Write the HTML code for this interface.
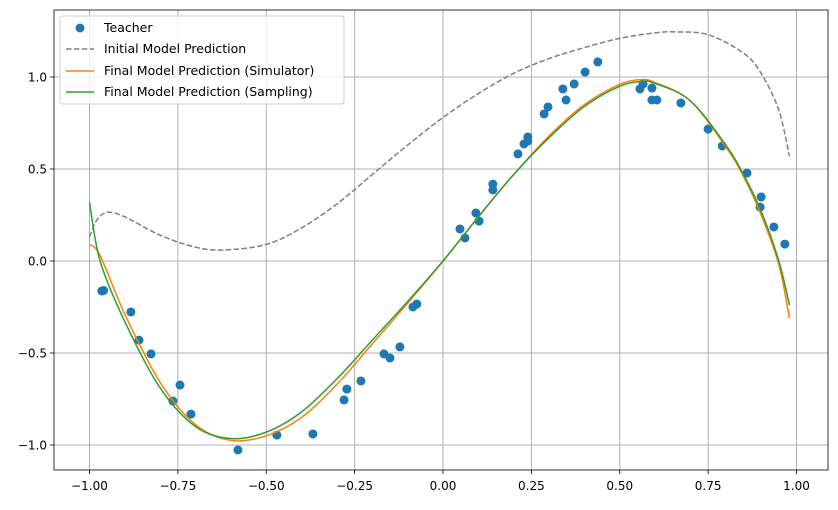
<!DOCTYPE html>
<html><head><meta charset="utf-8"><style>
body{margin:0;background:#fff;font-family:"Liberation Sans","DejaVu Sans",sans-serif}
svg text{font-family:"DejaVu Sans","Liberation Sans",sans-serif;font-size:12px;fill:#000}
</style></head><body>
<svg id="chart" width="838" height="505" xmlns="http://www.w3.org/2000/svg">
<g id="grid"></g>
<g id="series"></g>
<rect x="54" y="10" width="774" height="460" fill="none" stroke="#000" stroke-width="0.8"/>
<g id="ticks"></g>
<g>
<rect x="60" y="16" width="284" height="88" rx="3" fill="#fff" fill-opacity="0.8" stroke="#ccc"/>
<g><circle cx="80" cy="28" r="4.5" fill="#1f77b4"/><text x="104" y="32" style="font-size:12.5px">Teacher</text></g>
<g><line x1="66" y1="49" x2="94" y2="49" stroke="#808080" stroke-width="1.5" stroke-dasharray="5.5,2.4"/><text x="104" y="53" style="font-size:12.5px">Initial Model Prediction</text></g>
<g><line x1="66" y1="71" x2="94" y2="71" stroke="#ff7f0e" stroke-width="1.5"/><text x="104" y="75" style="font-size:12.5px">Final Model Prediction (Simulator)</text></g>
<g><line x1="66" y1="92" x2="94" y2="92" stroke="#2ca02c" stroke-width="1.5"/><text x="104" y="96" style="font-size:12.5px">Final Model Prediction (Sampling)</text></g>
</g>
</svg>
<script>
const teacherX=[-0.965,-0.96,-0.883,-0.86,-0.826,-0.744,-0.764,-0.713,-0.58,-0.47,-0.368,-0.28,-0.272,-0.232,-0.167,-0.15,-0.122,-0.085,-0.074,0.048,0.062,0.093,0.102,0.141,0.141,0.212,0.229,0.24,0.24,0.286,0.297,0.339,0.348,0.371,0.402,0.438,0.557,0.566,0.591,0.591,0.605,0.673,0.75,0.79,0.86,0.9,0.897,0.936,0.967];
const teacherY=[-0.163,-0.16,-0.277,-0.43,-0.505,-0.674,-0.761,-0.832,-1.027,-0.946,-0.94,-0.755,-0.696,-0.652,-0.505,-0.527,-0.467,-0.25,-0.234,0.174,0.125,0.261,0.217,0.418,0.386,0.582,0.636,0.674,0.652,0.799,0.837,0.935,0.875,0.962,1.027,1.082,0.935,0.962,0.875,0.94,0.875,0.859,0.717,0.625,0.478,0.348,0.293,0.185,0.092];
const curveX=[-1,-0.97,-0.9,-0.8,-0.7,-0.6,-0.5,-0.4,-0.3,-0.2,-0.1,0,0.1,0.2,0.3,0.4,0.5,0.56,0.6,0.7,0.8,0.85,0.9,0.95,0.98];
const simY=[0.09,0.03,-0.29,-0.66,-0.89,-0.975,-0.95,-0.85,-0.67,-0.45,-0.23,0,0.24,0.47,0.68,0.85,0.96,0.985,0.97,0.87,0.62,0.46,0.25,-0.02,-0.31];
const sampY=[0.32,0.0,-0.33,-0.69,-0.9,-0.965,-0.93,-0.82,-0.64,-0.43,-0.22,0,0.24,0.47,0.67,0.84,0.95,0.975,0.965,0.87,0.63,0.47,0.27,0.0,-0.24];
const initX=[-1,-0.98,-0.95,-0.9,-0.8,-0.7,-0.62,-0.5,-0.4,-0.3,-0.2,-0.1,0,0.1,0.2,0.3,0.4,0.5,0.6,0.66,0.75,0.85,0.9,0.95,0.98];
const initY=[0.13,0.22,0.265,0.24,0.14,0.075,0.06,0.09,0.18,0.31,0.47,0.63,0.78,0.91,1.02,1.10,1.16,1.21,1.24,1.245,1.23,1.13,1.02,0.82,0.57];
const xTicks=[-1,-0.75,-0.5,-0.25,0,0.25,0.5,0.75,1];
const xTickLabels=["−1.00","−0.75","−0.50","−0.25","0.00","0.25","0.50","0.75","1.00"];
const yTicks=[-1,-0.5,0,0.5,1];
const yTickLabels=["−1.0","−0.5","0.0","0.5","1.0"];
const NS="http://www.w3.org/2000/svg";
const sx=v=>443+v*353.5, sy=v=>261-v*184;
function mk(tag,attrs,parent){const e=document.createElementNS(NS,tag);for(const k in attrs)e.setAttribute(k,attrs[k]);parent.appendChild(e);return e;}
const grid=document.getElementById('grid'),ticks=document.getElementById('ticks'),ser=document.getElementById('series');
xTicks.forEach((t,i)=>{const x=sx(t);
 const g=mk('line',{x1:x,x2:x,y1:10,y2:470,stroke:'#b0b0b0','stroke-width':1},grid);
 
 
 const tk=mk('line',{x1:x,x2:x,y1:470,y2:474,stroke:'#000','stroke-width':0.8},ticks);
 
 
 const tx=mk('text',{x:x,y:490,'text-anchor':'middle'},ticks);tx.textContent=xTickLabels[i];
 
 
});
yTicks.forEach((t,i)=>{const y=sy(t);
 const g=mk('line',{x1:54,x2:828,y1:y,y2:y,stroke:'#b0b0b0','stroke-width':1},grid);
 
 
 const tk=mk('line',{x1:50,x2:54,y1:y,y2:y,stroke:'#000','stroke-width':0.8},ticks);
 
 
 const tx=mk('text',{x:47,y:y+4.5,'text-anchor':'end'},ticks);tx.textContent=yTickLabels[i];
 
 
});
function smooth(xs,ys){const p=xs.map((x,i)=>[sx(x),sy(ys[i])]);let d='M'+p[0][0]+','+p[0][1];
 for(let i=0;i<p.length-1;i++){const p0=p[Math.max(0,i-1)],p1=p[i],p2=p[i+1],p3=p[Math.min(p.length-1,i+2)];
 const c1=[p1[0]+(p2[0]-p0[0])/6,p1[1]+(p2[1]-p0[1])/6],c2=[p2[0]-(p3[0]-p1[0])/6,p2[1]-(p3[1]-p1[1])/6];
 d+=' C'+c1+' '+c2+' '+p2;}return d;}
const l1=mk('path',{d:smooth(initX,initY),fill:'none',stroke:'#808080','stroke-width':1.5,'stroke-dasharray':'5.5,2.4'},ser);


teacherX.forEach((x,i)=>{const c=mk('circle',{cx:sx(x),cy:sy(teacherY[i]),r:4.5,fill:'#1f77b4'},ser);
 
 });
const l2=mk('path',{d:smooth(curveX,simY),fill:'none',stroke:'#ff7f0e','stroke-width':1.5},ser);


const l3=mk('path',{d:smooth(curveX,sampY),fill:'none',stroke:'#2ca02c','stroke-width':1.5},ser);


</script>
</body></html>
